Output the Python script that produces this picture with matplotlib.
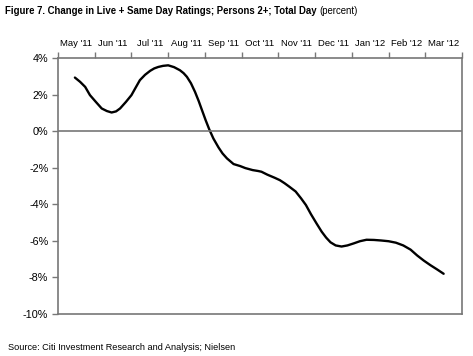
import matplotlib
matplotlib.use("Agg")
import matplotlib.pyplot as plt

# month labels along the top axis
MONTHS = ["May '11", "Jun '11", "Jul '11", "Aug '11", "Sep '11", "Oct '11",
          "Nov '11", "Dec '11", "Jan '12", "Feb '12", "Mar '12"]

# position in months (0 = start of May '11) and change in percent
x_pos = [0.46, 0.60, 0.74, 0.87, 1.03, 1.19, 1.33, 1.46, 1.58, 1.69, 1.85, 2.00,
         2.12, 2.23, 2.37, 2.51, 2.62, 2.73, 2.86, 3.00, 3.16, 3.32, 3.42, 3.51,
         3.62, 3.73, 3.83, 3.92, 4.02, 4.12, 4.23, 4.37, 4.48, 4.60, 4.78, 4.96,
         5.10, 5.30, 5.45, 5.54, 5.70, 5.90, 6.04, 6.17, 6.30, 6.47, 6.62, 6.75,
         6.89, 7.04, 7.18, 7.30, 7.42, 7.56, 7.72, 7.88, 8.05, 8.22, 8.40, 8.60,
         8.80, 9.00, 9.20, 9.40, 9.60, 9.78, 9.96, 10.14, 10.32, 10.50]
y_val = [2.93, 2.70, 2.42, 1.97, 1.60, 1.24, 1.10, 1.02, 1.08, 1.24, 1.60, 1.97,
         2.40, 2.79, 3.08, 3.30, 3.43, 3.51, 3.57, 3.60, 3.50, 3.33, 3.17, 2.97,
         2.62, 2.15, 1.65, 1.15, 0.60, 0.09, -0.40, -0.89, -1.22, -1.49, -1.80, -1.91,
         -2.02, -2.13, -2.18, -2.22, -2.38, -2.55, -2.68, -2.85, -3.04, -3.30, -3.68, -4.04,
         -4.55, -5.05, -5.50, -5.82, -6.08, -6.25, -6.31, -6.25, -6.14, -6.02, -5.94, -5.95,
         -5.98, -6.02, -6.10, -6.25, -6.48, -6.80, -7.08, -7.33, -7.56, -7.80]

Y_TICKS = [4, 2, 0, -2, -4, -6, -8, -10]

TITLE = "Figure 7. Change in Live + Same Day Ratings; Persons 2+; Total Day"
SOURCE = "Source: Citi Investment Research and Analysis; Nielsen"

plt.rcParams["font.family"] = ["Liberation Sans", "DejaVu Sans"]

fig = plt.figure(figsize=(4.73, 3.56), dpi=100)
ax = fig.add_axes([58 / 473, 1 - 314 / 356, (462 - 58) / 473, (314 - 58) / 356])

ax.plot(x_pos, y_val, color="black", linewidth=1.7, solid_capstyle="round")
ax.axhline(0, color="#777777", linewidth=1.2)

ax.set_xlim(0, 11)
ax.set_ylim(-10, 4)

# month boundaries as ticks, labels centred between them on top
ax.xaxis.tick_top()
ax.set_xticks(range(12))
ax.set_xticklabels([])
ax.set_xticks([i + 0.5 for i in range(11)], minor=True)
ax.set_xticklabels(MONTHS, minor=True)
ax.tick_params(axis="x", which="minor", length=0, labelsize=6.8, pad=7)
ax.tick_params(axis="x", which="major", length=4, color="#777777", width=1)

ax.set_yticks(Y_TICKS)
ax.set_yticklabels([f"{v}%" for v in Y_TICKS])
ax.tick_params(axis="y", length=4, color="#777777", width=1, labelsize=7.8, pad=3)

for s in ax.spines.values():
    s.set_color("#777777")
    s.set_linewidth(1.2)

t = fig.text(5 / 473, 1 - 11 / 356, TITLE, fontsize=6.9, fontweight="bold", va="center", ha="left")
fig.canvas.draw()
bb = t.get_window_extent()
fig.text(bb.x1 / 473 + 3 / 473, 1 - 11 / 356, "(percent)", fontsize=6.9, va="center", ha="left")
fig.text(8 / 473, 1 - 348 / 356, SOURCE, fontsize=6.6, va="center", ha="left")

fig.savefig("out.png", dpi=100)
